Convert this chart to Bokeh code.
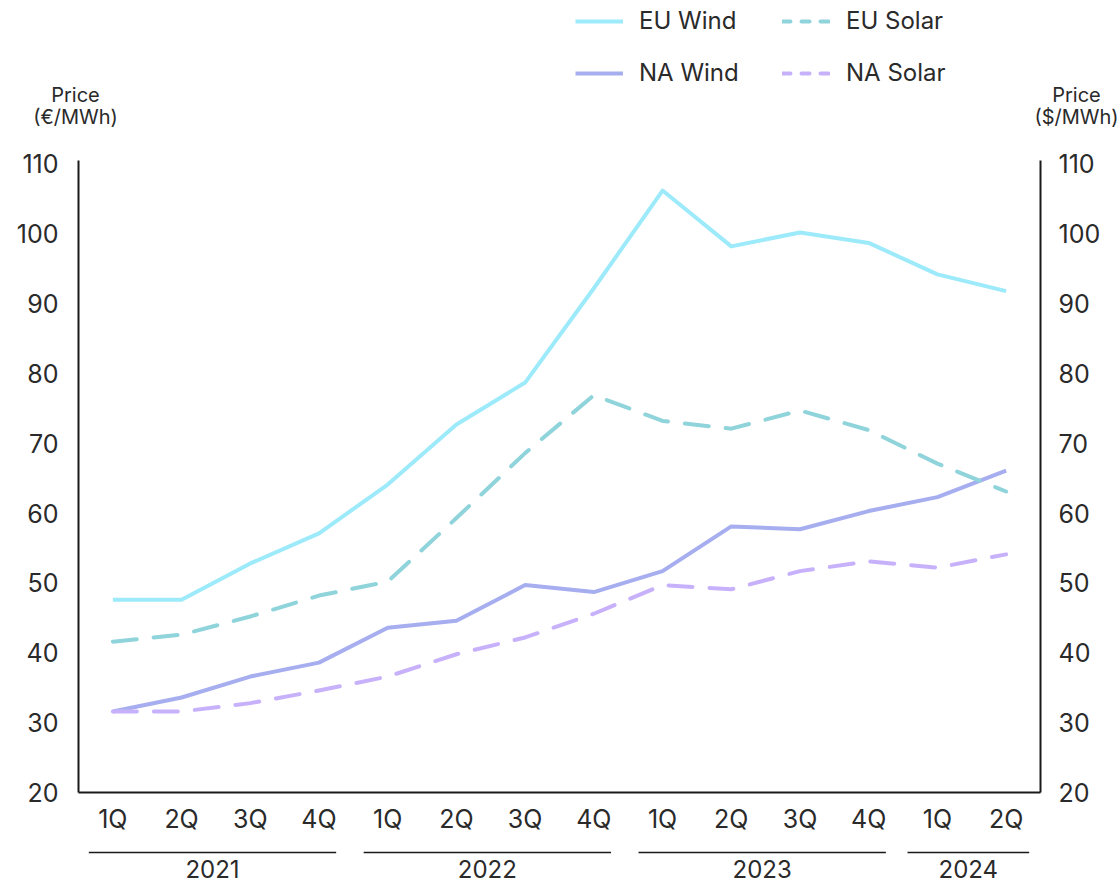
from bokeh.plotting import figure
from bokeh.layouts import column
from bokeh.models import (Range1d, LinearAxis, FixedTicker, Legend, LegendItem)
from bokeh.core.properties import value
from bokeh.embed import file_html
from bokeh.resources import INLINE

# Quarterly power prices, 1Q 2021 - 2Q 2024
quarters = ["1Q", "2Q", "3Q", "4Q", "1Q", "2Q", "3Q", "4Q",
            "1Q", "2Q", "3Q", "4Q", "1Q", "2Q"]
years = ["2021", "2022", "2023", "2024"]
quarters_per_year = [4, 4, 4, 2]

eu_wind = [47.6, 47.6, 52.8, 57.1, 64.1, 72.7, 78.7, 92.2, 106.2, 98.2, 100.2, 98.7, 94.2, 91.8]
eu_solar = [41.6, 42.6, 45.2, 48.2, 50.2, 59.3, 68.6, 76.9, 73.2, 72.1, 74.7, 71.9, 67.1, 63.1]
na_wind = [31.6, 33.6, 36.6, 38.6, 43.6, 44.6, 49.7, 48.7, 51.7, 58.1, 57.7, 60.3, 62.3, 66.1]
na_solar = [31.6, 31.6, 32.8, 34.6, 36.6, 39.8, 42.2, 45.6, 49.7, 49.1, 51.7, 53.1, 52.2, 54.1]

y_ticks = [20, 30, 40, 50, 60, 70, 80, 90, 100, 110]

series = [("EU Wind", eu_wind, "#9deafa", False),
          ("NA Wind", na_wind, "#a6aeef", False),
          ("EU Solar", eu_solar, "#8fd3db", True),
          ("NA Solar", na_solar, "#c8b1fb", True)]

FONT = "Inter"
TEXT = "#2a2a2a"
AXIS = "#1a1a1a"
LEFT, RIGHT = 78, 80
LW = 4
NAN = float("nan")

x = list(range(len(quarters)))
x_range = Range1d(-0.5, len(quarters) - 0.5)


def style(dashed, pattern):
    if not dashed:
        return dict(line_join="round")
    return dict(line_dash=pattern, line_cap="round", line_join="round")


# header band: legend and the titles of both price axes
top = figure(width=1120, height=140, output_backend="svg", toolbar_location=None,
             x_range=Range1d(0, 1120), y_range=Range1d(0, 140),
             min_border_left=0, min_border_right=0, min_border_top=0,
             min_border_bottom=0)
top.frame_align = False
top.axis.visible = False
top.grid.visible = False
top.outline_line_color = None

items = []
for name, _, colour, dashed in series:
    # legend key only: a single undefined point, so nothing is drawn in the band
    key = top.line(x=[NAN], y=[NAN], line_color=colour, line_width=LW,
                   **style(dashed, "8 11"))
    items.append(LegendItem(label=name, renderers=[key]))

legend = Legend(items=items, ncols=2, location=(575, 53))
legend.border_line_color = None
legend.background_fill_alpha = 0
legend.padding = 0
legend.margin = 0
legend.spacing = 23
legend.glyph_width = 48
legend.glyph_height = 26
legend.label_height = 26
legend.label_width = 120
legend.label_standoff = 16
legend.label_text_font = FONT
legend.label_text_font_size = "24px"
legend.label_text_color = TEXT
legend.label_text_baseline = "middle"
top.add_layout(legend, "center")

top.text(x=[75, 75, 1076, 1076], y=[46, 24, 46, 24],
         text=["Price", "(€/MWh)", "Price", "($/MWh)"],
         text_align="center", text_baseline="middle", text_font=value(FONT),
         text_font_size="20px", text_color=TEXT)

# main chart
p = figure(width=1120, height=702, output_backend="svg", toolbar_location=None,
           x_range=x_range, y_range=Range1d(20, 110.5),
           min_border_left=LEFT, min_border_right=RIGHT, min_border_top=20,
           min_border_bottom=50)
p.outline_line_color = None
p.grid.visible = False

xa = p.xaxis[0]
xa.ticker = FixedTicker(ticks=x)
xa.major_label_overrides = {i: q for i, q in enumerate(quarters)}
xa.major_tick_line_color = None
xa.minor_tick_line_color = None
xa.major_tick_out = 0
xa.major_tick_in = 0
xa.axis_line_color = AXIS
xa.axis_line_width = 2
xa.major_label_standoff = 11
xa.major_label_text_font = FONT
xa.major_label_text_font_size = "25px"
xa.major_label_text_color = TEXT

ya = p.yaxis[0]
ra = LinearAxis()
p.add_layout(ra, "right")
for ax, stand in ((ya, 20), (ra, 18)):
    ax.ticker = FixedTicker(ticks=y_ticks)
    ax.major_tick_line_color = None
    ax.minor_tick_line_color = None
    ax.major_tick_out = 0
    ax.major_tick_in = 0
    ax.axis_line_color = AXIS
    ax.axis_line_width = 2
    ax.major_label_standoff = stand
    ax.major_label_text_font = FONT
    ax.major_label_text_font_size = "25px"
    ax.major_label_text_color = TEXT

for name, vals, colour, dashed in series:
    p.line(x, vals, line_color=colour, line_width=LW, **style(dashed, "24 17"))

# year band under the quarter labels, sharing the x range
q = figure(width=1120, height=41, output_backend="svg", toolbar_location=None,
           x_range=x_range, y_range=Range1d(0, 1),
           min_border_left=LEFT, min_border_right=RIGHT, min_border_top=0,
           min_border_bottom=0)
q.axis.visible = False
q.grid.visible = False
q.outline_line_color = None

centres, x0, x1 = [], [], []
start = 0
for n in quarters_per_year:
    c = start + (n - 1) / 2 - 0.05
    half = (n - 0.4) / 2 if n > 2 else (n - 0.23) / 2
    centres.append(c)
    x0.append(c - half)
    x1.append(c + half)
    start += n

q.segment(x0=x0, y0=[0.756] * len(years), x1=x1, y1=[0.756] * len(years),
          line_color=AXIS, line_width=1.5)
q.text(x=centres, y=[0.36] * len(years), text=years, text_align="center",
       text_baseline="middle", text_font=value(FONT), text_font_size="24px",
       text_color=TEXT)

layout = column(top, p, q, spacing=0)
open("out.html", "w").write(file_html(layout, INLINE))
